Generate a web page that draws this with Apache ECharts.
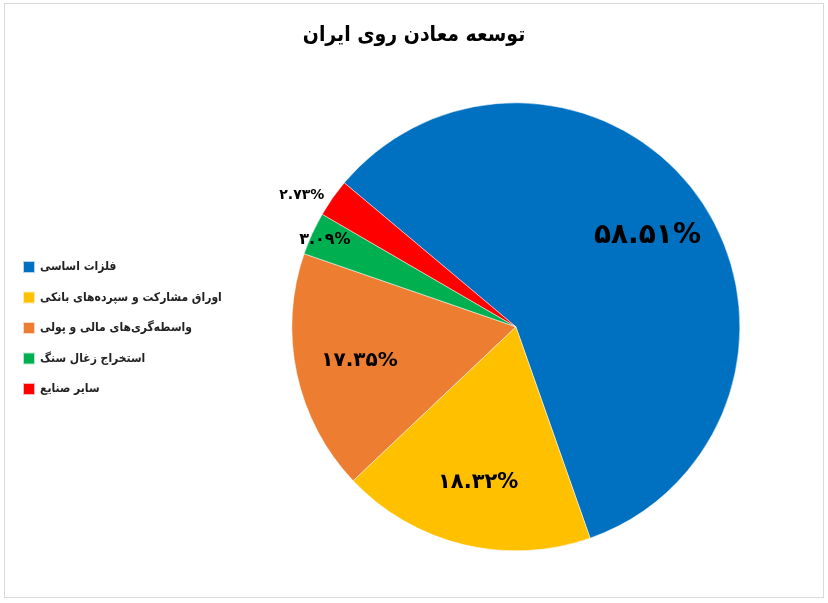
<!DOCTYPE html>
<html><head><meta charset="utf-8">
<script src="https://cdn.jsdelivr.net/npm/echarts@6/dist/echarts.min.js"></script>
<style>
html,body{margin:0;padding:0;background:#fff;}
#frame{position:absolute;left:4px;top:3px;width:818px;height:593px;border:1px solid #d9d9d9;}
#c{position:absolute;left:0;top:0;width:828px;height:603px;}
</style></head>
<body><div id="frame"></div><div id="c"></div>
<script>
const categories = ['فلزات اساسی','اوراق مشارکت و سپرده‌های بانکی','واسطه‌گری‌های مالی و پولی','استخراج زغال سنگ','سایر صنایع'];
const values = [58.51, 18.32, 17.35, 3.09, 2.73];
const colors = ['#0070C0','#FFC000','#ED7D31','#00B050','#FF0000'];
const labelSizes = [28, 21, 20, 16, 14];
const title = 'توسعه معادن روی ایران';

const fa = '۰۱۲۳۴۵۶۷۸۹';
function toFa(v){ return v.toFixed(2).replace(/[0-9]/g, d => fa[+d]) + '%'; }

const FONT = '"DejaVu Sans", sans-serif';
const FONTC = '"DejaVu Sans Condensed", "DejaVu Sans", sans-serif';
const center = ['62.3%','54.2%'];
const R = 224;

const mainData = categories.map((n,i)=>({name:n, value:values[i], itemStyle:{color:colors[i]}}));
const ringA = categories.map((n,i)=>({name:n, value:values[i],
  label:{show: i<3, fontSize: labelSizes[i]}}));
const ringB = categories.map((n,i)=>({name:n, value:values[i],
  label:{show: i>=3, fontSize: labelSizes[i], position: i===4 ? 'outside' : 'inside'}}));

const chart = echarts.init(document.getElementById('c'), null, {renderer:'canvas'});
chart.setOption({
  animation:false,
  title:{text:title, left:'center', top:20, textStyle:{fontFamily:FONTC, fontSize:21, fontWeight:'bold', color:'#000'}},
  legend:{orient:'vertical', left:17, top:255, itemWidth:12, itemHeight:12, itemGap:16.5,
    icon:'rect', data:categories,
    textStyle:{fontFamily:FONTC, fontSize:12, fontWeight:'bold', color:'#222'}},
  series:[
    {type:'pie', radius:[0,R], center:center, startAngle:140, clockwise:true,
     data:mainData, label:{show:false}, labelLine:{show:false},
     itemStyle:{borderColor:'rgba(255,255,255,0.7)', borderWidth:0.7}, emphasis:{disabled:true}},
    {type:'pie', radius:[90,R], center:center, startAngle:140, clockwise:true, silent:true,
     data:ringA, itemStyle:{color:'transparent'}, labelLine:{show:false},
     label:{position:'inside', formatter:p=>toFa(p.value), color:'#000', fontWeight:'bold', fontFamily:FONT},
     emphasis:{disabled:true}},
    {type:'pie', radius:[190,R], center:center, startAngle:140, clockwise:true, silent:true,
     data:ringB, itemStyle:{color:'transparent'},
     labelLine:{show:false, length:4, length2:0},
     label:{formatter:p=>toFa(p.value), color:'#000', fontWeight:'bold', fontFamily:FONT},
     emphasis:{disabled:true}}
  ]
});
</script></body></html>
